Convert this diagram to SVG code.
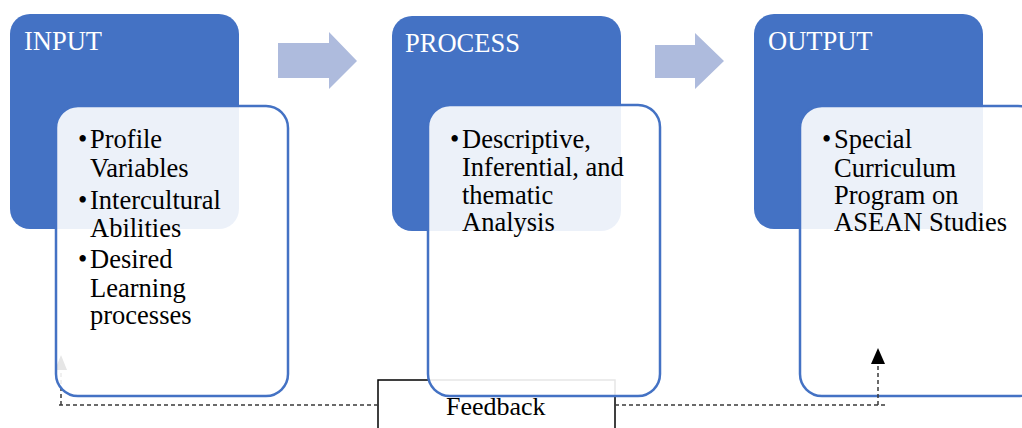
<svg xmlns="http://www.w3.org/2000/svg" width="1022" height="428" viewBox="0 0 1022 428">
  <style>
    .head { fill: #4472C4; }
    .card { fill: #FFFFFF; fill-opacity: 0.9; stroke: #4472C4; stroke-width: 2.5; }
    .title { font-family: "Liberation Serif", "Times New Roman", serif; font-size: 26.5px; fill: #FFFFFF; }
    .body { font-family: "Liberation Serif", "Times New Roman", serif; font-size: 26.5px; fill: #000000; }
    .flow { fill: #AEBBDD; }
    .dash { fill: none; stroke: #3A3A3A; stroke-width: 1.5; stroke-dasharray: 4 3; }
  </style>

  <!-- header blocks -->
  <rect class="head" x="10" y="14" width="229" height="215" rx="20"/>
  <rect class="head" x="392" y="16" width="229" height="215" rx="20"/>
  <rect class="head" x="754" y="14" width="229" height="215" rx="20"/>

  <!-- feedback label box -->
  <g id="feedback">
    <rect x="378" y="380" width="237" height="70" fill="#FFFFFF" stroke="#000000" stroke-width="1.5"/>
    <text class="body" x="446" y="415" style="font-size:26px">Feedback</text>
  </g>

  <!-- connectors: stage arrows and feedback loop -->
  <g id="connectors">
    <polygon class="flow" points="278,43 329,43 329,32 357,61 329,89 329,78 278,78"/>
    <polygon class="flow" points="655,45 695,45 695,33 724,61 695,89 695,78 655,78"/>
    <path class="dash" d="M378,405 H59"/>
    <path class="dash" d="M615,405 H885"/>
    <path d="M61,405 V370" class="dash"/>
    <path d="M55,370 L61,355 L67,370 Z" fill="#000000"/>
  </g>

  <g id="input">
    <rect class="card" x="56" y="106" width="232" height="290" rx="22"/>
    <text class="title" x="24" y="50">INPUT</text>
    <text class="body">
      <tspan x="78" y="148">•</tspan><tspan x="90" y="148">Profile</tspan>
      <tspan x="90" y="177">Variables</tspan>
      <tspan x="78" y="209">•</tspan><tspan x="90" y="209">Intercultural</tspan>
      <tspan x="90" y="237">Abilities</tspan>
      <tspan x="78" y="268">•</tspan><tspan x="90" y="268">Desired</tspan>
      <tspan x="90" y="297">Learning</tspan>
      <tspan x="90" y="324">processes</tspan>
    </text>
  </g>

  <g id="process">
    <rect class="card" x="428" y="105" width="232" height="291" rx="22"/>
    <text class="title" x="405" y="52">PROCESS</text>
    <text class="body">
      <tspan x="450" y="148">•</tspan><tspan x="462" y="148">Descriptive,</tspan>
      <tspan x="462" y="176">Inferential, and</tspan>
      <tspan x="462" y="204">thematic</tspan>
      <tspan x="462" y="231">Analysis</tspan>
    </text>
  </g>

  <g id="output">
    <rect class="card" x="800" y="106" width="240" height="290" rx="22"/>
    <text class="title" x="768" y="50">OUTPUT</text>
    <text class="body">
      <tspan x="822" y="148">•</tspan><tspan x="834" y="148">Special</tspan>
      <tspan x="834" y="177">Curriculum</tspan>
      <tspan x="834" y="204">Program on</tspan>
      <tspan x="834" y="231">ASEAN Studies</tspan>
    </text>
  </g>

  <!-- loop return into OUTPUT, drawn above the card -->
  <g id="connectors-top">
    <path class="dash" d="M878,405 V364"/>
    <path d="M871,364 L878,348 L885,364 Z" fill="#000000"/>
  </g>
</svg>
